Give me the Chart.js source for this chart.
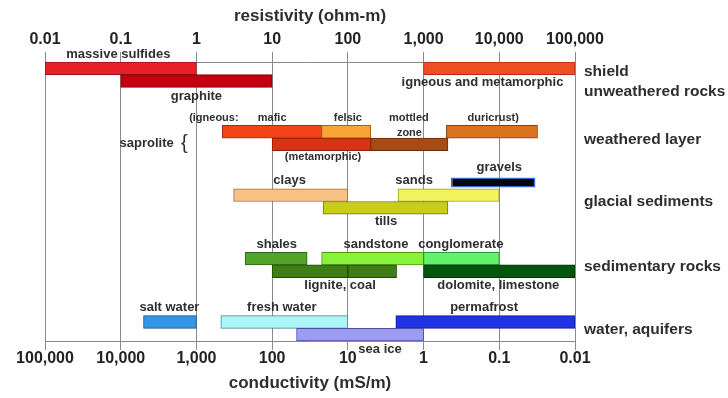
<!DOCTYPE html>
<html>
<head>
<meta charset="utf-8">
<script src="https://cdn.jsdelivr.net/npm/chart.js@4.4.1/dist/chart.umd.min.js"></script>
<style>
  html, body { margin: 0; padding: 0; background: #fff; }
  #wrap { width: 728px; height: 398px; position: relative; }
</style>
</head>
<body>
<div id="wrap"><canvas id="chart"></canvas></div>
<script>
// decade ticks, resistivity (ohm-m) on top, conductivity (mS/m) below
const resistTicks = [0.01, 0.1, 1, 10, 100, 1000, 10000, 100000];
const resistLabels = ['0.01', '0.1', '1', '10', '100', '1,000', '10,000', '100,000'];
const conductLabels = ['100,000', '10,000', '1,000', '100', '10', '1', '0.1', '0.01'];

// rows of the diagram, top to bottom
const rowIds = [0, 1, 2, 3, 4, 5, 6, 7, 8, 9, 10, 11, 12, 13, 14, 15, 16, 17, 18, 19, 20, 21];

// resistivity ranges (ohm-m)
const barNames = ['massive sulfides', 'igneous and metamorphic', 'graphite',
  'mafic', 'felsic', 'duricrust', 'metamorphic', 'mottled zone',
  'gravels', 'clays', 'sands', 'tills',
  'shales', 'sandstone', 'conglomerate', 'lignite', 'coal', 'dolomite, limestone',
  'salt water', 'fresh water', 'permafrost', 'sea ice'];
const barLow  = [0.01, 1000, 0.1, 2.2, 45, 2000, 10, 200, 2300, 3.1, 460, 47, 4.4, 45, 1000, 10, 100, 1000, 0.2, 2.1, 430, 21];
const barHigh = [1, 100000, 10, 45, 200, 32000, 200, 2100, 30000, 100, 10000, 2100, 29, 1000, 10000, 100, 440, 100000, 1, 100, 100000, 1000];
const barRow  = [0, 0, 1, 5, 5, 5, 6, 6, 9, 10, 10, 11, 15, 15, 15, 16, 16, 16, 20, 20, 20, 21];

const barFill = ['#e8202a', '#f04e22', '#c20010', '#f24418', '#f8a436', '#d8741e', '#d83414', '#a44c14',
  '#05050e', '#f8c284', '#f2f25c', '#c8ce18', '#52a428', '#88f23a', '#62f26c', '#3e7e14', '#3e7e14', '#04560e',
  '#3496e6', '#acf6f8', '#2032e6', '#9c9cf2'];
const barEdge = ['#a01018', '#b03010', '#800008', '#a82a0a', '#b06010', '#8a4208', '#902008', '#6a2c08',
  '#3a6bd0', '#9a6a3a', '#9a9a2a', '#70740a', '#2e6410', '#4a9a18', '#2a9a30', '#224a08', '#224a08', '#023006',
  '#184e8a', '#3a8a96', '#101a8a', '#5050a0'];
const thinBars = ['gravels'];

// annotations: text, resistivity anchor, row
const noteText = ['massive sulfides', 'graphite', 'igneous and metamorphic', 'clays', 'sands', 'gravels', 'tills',
  'shales', 'sandstone', 'conglomerate', 'lignite, coal', 'dolomite, limestone',
  'salt water', 'fresh water', 'permafrost', 'sea ice'];
const noteAt  = [0.093, 1, 6000, 17, 750, 10000, 320, 11.5, 235, 3100, 79, 9700, 0.44, 13.4, 6300, 266];
const noteRow = [-1.13, 2.18, 1.08, 8.86, 8.86, 7.8, 12.1, 13.85, 13.85, 13.85, 17.14, 17.14, 18.88, 18.88, 18.88, 22.16];

const subText = ['(igneous:', 'mafic', 'felsic', 'mottled', 'zone', 'duricrust)', '(metamorphic)'];
const subAt  = [1.7, 10, 100, 640, 650, 8300, 47];
const subRow = [3.92, 3.92, 3.92, 3.92, 5.1, 3.92, 7.0];

const groupText = ['shield', 'unweathered rocks', 'weathered layer', 'glacial sediments', 'sedimentary rocks', 'water, aquifers'];
const groupRow = [0.29, 1.87, 5.65, 10.52, 15.64, 20.64];

const FONT = "'Liberation Sans', Arial, sans-serif";
const TEXT = '#2e2e2e';
const GRID = '#8a8a8a';

function barSet(thin) {
  const idx = barNames.map((n, i) => i).filter(i => thinBars.includes(barNames[i]) === thin);
  return {
    data: idx.map(i => ({ x: [barLow[i], barHigh[i]], y: barRow[i] })),
    backgroundColor: idx.map(i => barFill[i]),
    borderColor: idx.map(i => barEdge[i]),
    borderWidth: thin ? 1.5 : 1,
    borderSkipped: false,
    grouped: false,
    barPercentage: thin ? 0.8 : 1,
    categoryPercentage: 1
  };
}

const decadeTicks = s => { s.ticks = resistTicks.map(v => ({ value: v })); };

// text that is not an axis: labels on the bars, the group names, the saprolite brace
const notes = {
  id: 'notes',
  afterDraw(chart) {
    const ctx = chart.ctx;
    const xs = chart.scales.x, ys = chart.scales.y;
    ctx.save();
    ctx.fillStyle = TEXT;
    ctx.textAlign = 'center';
    ctx.textBaseline = 'middle';
    ctx.font = 'bold 13px ' + FONT;
    noteText.forEach((t, i) => ctx.fillText(t, xs.getPixelForValue(noteAt[i]), ys.getPixelForValue(noteRow[i])));
    ctx.font = 'bold 11px ' + FONT;
    subText.forEach((t, i) => ctx.fillText(t, xs.getPixelForValue(subAt[i]), ys.getPixelForValue(subRow[i])));
    ctx.font = 'bold 13px ' + FONT;
    ctx.fillText('saprolite', xs.getPixelForValue(0.22), ys.getPixelForValue(5.89));
    ctx.font = '20px ' + FONT;
    ctx.fillText('{', xs.getPixelForValue(0.69), ys.getPixelForValue(5.95));
    ctx.textAlign = 'left';
    ctx.font = 'bold 15.5px ' + FONT;
    groupText.forEach((t, i) => ctx.fillText(t, chart.chartArea.right + 9, ys.getPixelForValue(groupRow[i])));
    ctx.restore();
  }
};

new Chart(document.getElementById('chart'), {
  type: 'bar',
  data: {
    labels: rowIds,
    datasets: [barSet(false), barSet(true)]
  },
  options: {
    indexAxis: 'y',
    responsive: true,
    maintainAspectRatio: false,
    animation: false,
    layout: { padding: { left: 45, right: 153, top: 0, bottom: 0 } },
    plugins: { legend: { display: false }, tooltip: { enabled: false } },
    scales: {
      y: { display: false, offset: true },
      x: {
        type: 'logarithmic',
        position: 'top',
        min: 0.01,
        max: 100000,
        afterBuildTicks: decadeTicks,
        afterFit: s => { s.height = 62; },
        ticks: {
          autoSkip: false, maxRotation: 0, padding: 3, color: '#222',
          font: { family: FONT, size: 16, weight: 'bold' },
          callback: (v, i) => resistLabels[i]
        },
        grid: { color: GRID, lineWidth: 1, tickLength: 10 },
        border: { color: GRID, width: 1 },
        title: {
          display: true, text: 'resistivity (ohm-m)', color: TEXT,
          font: { family: FONT, size: 17, weight: 'bold' },
          padding: { top: 6, bottom: 0 }
        }
      },
      x2: {
        type: 'logarithmic',
        axis: 'x',
        position: 'bottom',
        min: 0.01,
        max: 100000,
        afterBuildTicks: decadeTicks,
        afterFit: s => { s.height = 57; },
        ticks: {
          autoSkip: false, maxRotation: 0, padding: -1, color: '#222',
          font: { family: FONT, size: 16, weight: 'bold' },
          callback: (v, i) => conductLabels[i]
        },
        grid: { color: GRID, lineWidth: 1, tickLength: 9, drawOnChartArea: false },
        border: { color: GRID, width: 1 },
        title: {
          display: true, text: 'conductivity (mS/m)', color: TEXT,
          font: { family: FONT, size: 17, weight: 'bold' },
          padding: { top: 0, bottom: 4 }
        }
      }
    }
  },
  plugins: [notes]
});
</script>
</body>
</html>
